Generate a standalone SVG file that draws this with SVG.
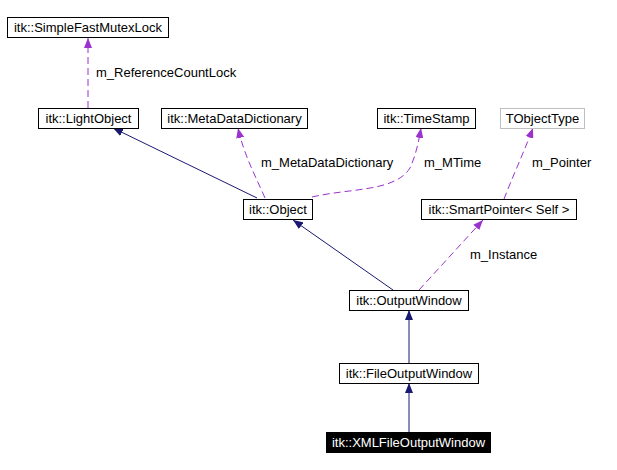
<svg xmlns="http://www.w3.org/2000/svg" width="617" height="470" viewBox="0 0 617 470">
<style>
.box{fill:#fff;stroke:#000;stroke-width:1}
.gray{fill:#fff;stroke:#bfbfbf;stroke-width:1}
.dark{fill:#000;stroke:#000;stroke-width:1}
text{font-family:"Liberation Sans",Arial,sans-serif;font-size:13px}
.nt{text-anchor:middle;fill:#000}
.wt{text-anchor:middle;fill:#fff}
.lbl{fill:#000}
.inh{fill:none;stroke:#191970;stroke-width:1}
.use{fill:none;stroke:#9a32cd;stroke-width:1;stroke-dasharray:7,4}
</style>
<defs>
<marker id="ah-inh" viewBox="0 0 10 8" refX="10" refY="4" markerWidth="10" markerHeight="8" markerUnits="userSpaceOnUse" orient="auto"><path d="M0,0 L10,4 L0,8 z" fill="#191970"/></marker>
<marker id="ah-use" viewBox="0 0 10 8" refX="10" refY="4" markerWidth="10" markerHeight="8" markerUnits="userSpaceOnUse" orient="auto"><path d="M0,0 L10,4 L0,8 z" fill="#9a32cd"/></marker>
</defs>
<rect width="617" height="470" fill="#fff"/>
<g id="connectors">
<path class="use" d="M88,108 L88,38" marker-end="url(#ah-use)"/>
<text class="lbl" x="96" y="77">m_ReferenceCountLock</text>
<path class="inh" d="M257,198 L113,128" marker-end="url(#ah-inh)"/>
<path class="use" d="M265,198 C255,175 244,155 238,128" marker-end="url(#ah-use)"/>
<text class="lbl" x="261" y="167">m_MetaDataDictionary</text>
<path class="use" d="M312,197 C350,188 395,192 410,168 C416,155 419,140 421,128" marker-end="url(#ah-use)"/>
<text class="lbl" x="424" y="167">m_MTime</text>
<path class="use" d="M504,199 C512,178 524,152 533,128" marker-end="url(#ah-use)"/>
<text class="lbl" x="532" y="167">m_Pointer</text>
<path class="inh" d="M393,290 L293,220" marker-end="url(#ah-inh)"/>
<path class="use" d="M419,290 L483,220" marker-end="url(#ah-use)"/>
<text class="lbl" x="470" y="259">m_Instance</text>
<path class="inh" d="M409,363 L409,310" marker-end="url(#ah-inh)"/>
<path class="inh" d="M409,432 L409,383" marker-end="url(#ah-inh)"/>
</g>
<g id="SimpleFastMutexLock"><rect class="box" x="7.5" y="17.5" width="161" height="20"/><text class="nt" x="88" y="32">itk::SimpleFastMutexLock</text></g>
<g id="LightObject"><rect class="box" x="38.5" y="108.5" width="100" height="20"/><text class="nt" x="88.5" y="123">itk::LightObject</text></g>
<g id="MetaDataDictionary"><rect class="box" x="161.5" y="108.5" width="146" height="20"/><text class="nt" x="234.5" y="123">itk::MetaDataDictionary</text></g>
<g id="TimeStamp"><rect class="box" x="377.5" y="108.5" width="98" height="20"/><text class="nt" x="426.5" y="123">itk::TimeStamp</text></g>
<g id="TObjectType"><rect class="gray" x="500.5" y="108.5" width="84" height="20"/><text class="nt" x="542.5" y="123">TObjectType</text></g>
<g id="Object"><rect class="box" x="243.5" y="199.5" width="69" height="20"/><text class="nt" x="278" y="214">itk::Object</text></g>
<g id="SmartPointer"><rect class="box" x="421.5" y="199.5" width="155" height="20"/><text class="nt" x="499" y="214">itk::SmartPointer&lt; Self &gt;</text></g>
<g id="OutputWindow"><rect class="box" x="349.5" y="290.5" width="119" height="20"/><text class="nt" x="409" y="305">itk::OutputWindow</text></g>
<g id="FileOutputWindow"><rect class="box" x="339.5" y="363.5" width="139" height="20"/><text class="nt" x="409" y="378">itk::FileOutputWindow</text></g>
<g id="XMLFileOutputWindow"><rect class="dark" x="326.5" y="432.5" width="164" height="20"/><text class="wt" x="408.5" y="447">itk::XMLFileOutputWindow</text></g>
</svg>
